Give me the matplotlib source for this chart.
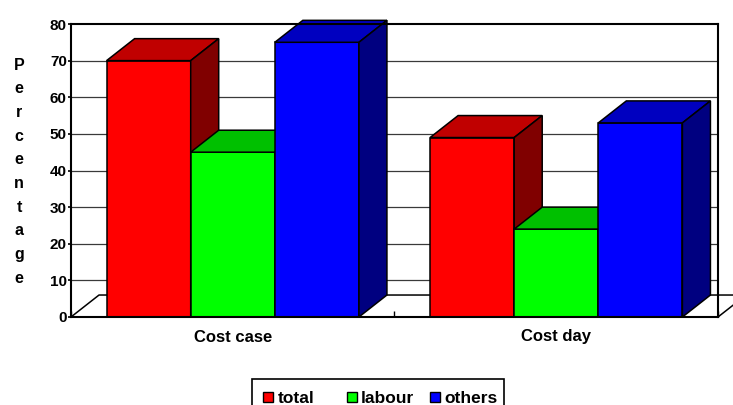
import numpy as np
import matplotlib
matplotlib.use('Agg')
import matplotlib.pyplot as plt
from matplotlib.patches import Polygon, Rectangle

plt.rcParams['font.family'] = ['Liberation Sans', 'DejaVu Sans']
plt.rcParams['font.weight'] = 'bold'

categories = ["Cost case", "Cost day"]
series_names = ["total", "labour", "others"]
total = [70, 49]
labour = [45, 24]
others = [75, 53]
y_ticks = [0, 10, 20, 30, 40, 50, 60, 70, 80]
axis_title = "Percentage"

# front, top, side colours of each 3d column
front_cols = ['#ff0000', '#00ff00', '#0000ff']
top_cols = ['#c00000', '#00c000', '#0000c0']
side_cols = ['#800000', '#008000', '#000080']

W, H = 733, 405
fig = plt.figure(figsize=(W / 100, H / 100), dpi=100)


def fx(px):
    return px / W


def fy(py):
    return 1 - py / H


ax = fig.add_axes([fx(71), fy(317), 647 / W, 293 / H])
ax.set_xlim(0, len(categories))
ax.set_ylim(0, 80)

bar_w = 0.26
dx, dy = 0.0866, 6.0  # depth offset in data units
lw = 1.1

# back wall gridlines
for v in y_ticks[1:-1]:
    ax.axhline(v, color='#3a3a3a', lw=0.9, zorder=1)

# floor outline
n = len(categories)
ax.plot([0, dx, n + dx], [0, dy, dy], color='black', lw=lw, zorder=1, clip_on=False)
ax.plot([n, n + dx], [0, dy], color='black', lw=lw, zorder=1, clip_on=False)

series = [total, labour, others]
z = 2
for i, cat in enumerate(categories):
    for j, vals in enumerate(series):
        x0 = i + 0.5 + (j - 1.5) * bar_w
        x1 = x0 + bar_w
        h = vals[i]
        front = Polygon([(x0, 0), (x1, 0), (x1, h), (x0, h)], closed=True,
                        fc=front_cols[j], ec='black', lw=lw, zorder=z)
        top = Polygon([(x0, h), (x1, h), (x1 + dx, h + dy), (x0 + dx, h + dy)], closed=True,
                      fc=top_cols[j], ec='black', lw=lw, zorder=z)
        side = Polygon([(x1, 0), (x1 + dx, dy), (x1 + dx, h + dy), (x1, h)], closed=True,
                       fc=side_cols[j], ec='black', lw=lw, zorder=z)
        for p in (front, top, side):
            p.set_clip_on(False)
            ax.add_patch(p)
        z += 1

for s in ax.spines.values():
    s.set_linewidth(1.5)
    s.set_color('black')
    s.set_zorder(20)

ax.set_yticks(y_ticks)
ax.tick_params(axis='y', length=2.5, width=1.2, pad=0.5, labelsize=11)
ax.set_xticks(range(n + 1))
ax.set_xticklabels([])
ax.tick_params(axis='x', which='major', direction='in', length=4.5, width=1)
ax.set_xticks([i + 0.5 for i in range(n)], minor=True)
ax.set_xticklabels(categories, minor=True, fontsize=12, fontweight='bold')
ax.tick_params(axis='x', which='minor', length=0, pad=9)

# vertical axis title, one upright letter per line
for k, ch in enumerate(axis_title):
    fig.text(fx(19), fy(65 + k * 23.7), ch, ha='center', va='center',
             fontsize=11.5, fontweight='bold')

# legend: boxed row of equally wide entries, cut by the lower edge
fig.add_artist(Rectangle((fx(252), fy(412)), (504 - 252) / W, (412 - 379) / H,
                         transform=fig.transFigure, fc='white', ec='black', lw=1.2))
for j, name in enumerate(series_names):
    left = 263 + j * 83.5
    fig.add_artist(Rectangle((fx(left), fy(402)), 10 / W, 10 / H,
                             transform=fig.transFigure, fc=front_cols[j], ec='black', lw=1))
    fig.text(fx(left + 14.5), fy(403), name, ha='left', va='baseline',
             fontsize=12.5, fontweight='bold')

fig.savefig('out.png', dpi=100)
